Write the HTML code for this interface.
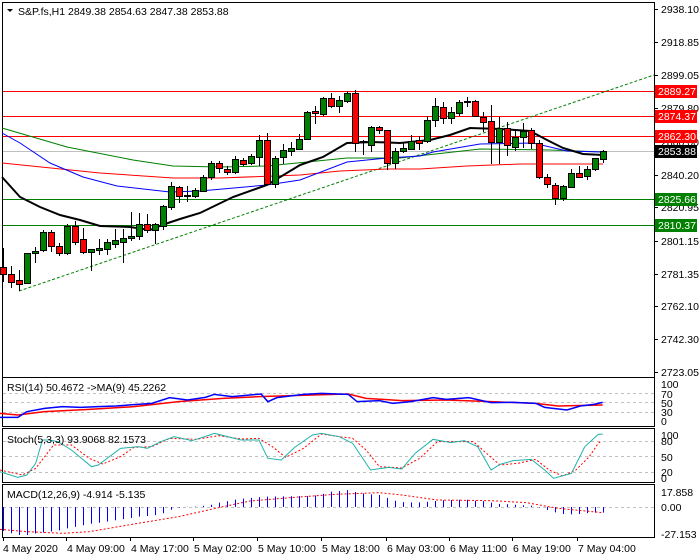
<!DOCTYPE html>
<html><head><meta charset="utf-8"><style>
html,body{margin:0;padding:0;background:#fff;width:700px;height:560px;overflow:hidden}
svg{display:block;font-family:"Liberation Sans","DejaVu Sans",sans-serif;font-size:10.5px}
</style></head><body>
<svg id="s" width="700" height="560" xmlns="http://www.w3.org/2000/svg">
<rect x="0" y="0" width="700" height="560" fill="#fff"/>
<g id="main"></g>
</svg>
<script>
const NS="http://www.w3.org/2000/svg";const S=document.getElementById('main');
function el(t,a,txt){const e=document.createElementNS(NS,t);for(const k in a)e.setAttribute(k,a[k]);if(txt!==undefined)e.textContent=txt;S.appendChild(e);return e;}
function pl(pts,st,w,dash){el('polyline',{points:pts.map(p=>p.join(',')).join(' '),fill:'none',stroke:st,'stroke-width':w||1,'stroke-dasharray':dash||'none'});}
function z3(pts){return pts.map(p=>[p[0]/2.24,p[1]/3+370]);}
// frames
const frames=[[2,2,652,375],[2,377,652,49],[2,428,652,54],[2,484,652,53]];
frames.forEach(f=>el('rect',{x:f[0]+.5,y:f[1]+.5,width:f[2],height:f[3],fill:'none',stroke:'#000'}));
// horizontal levels
[[91,'#f00'],[116,'#f00'],[136,'#f00'],[199,'#008000'],[225,'#008000']].forEach(l=>el('line',{x1:3,x2:654,y1:l[0]+.5,y2:l[0]+.5,stroke:l[1]}));
el('line',{x1:3,x2:654,y1:151.5,y2:151.5,stroke:'#c0c0c0'});
// trendline
el('line',{x1:19,y1:291,x2:654,y2:75,stroke:'#008000','stroke-dasharray':'3,2'});
// MAs
pl([[2,128],[67,147],[133,160],[173,166],[220,167],[267,166],[347,158],[400,158],[480,149],[550,150],[603,152]],'#008000');
pl([[2,163],[100,173],[173,178],[220,178],[300,175],[340,171],[387,169],[420,169],[467,166],[520,164],[603,164]],'#f00');
pl([[2,133],[20,143],[50,163],[83,177],[117,186],[170,192],[200,191],[267,185],[300,180],[347,162],[387,158],[420,156],[433,152],[480,144],[533,143],[567,151],[603,152]],'#00f');
pl([[2,177],[20,197],[40,207],[60,215],[80,220],[100,226],[130,227],[150,230],[165,224],[180,219],[200,213],[233,197],[267,185],[300,165],[323,157],[347,143],[373,142],[400,143],[430,140],[450,135],[470,128],[500,129],[530,131],[547,140],[563,148],[583,154],[603,155]],'#000',2);
// candles [o,c,h,l]
const C=[[267,274,248,282],[274,282,266,288],[280,284,270,291],[283,253,253,283],[253,251,247,263],[250,232,230,252],[232,246,230,252],[246,253,243,256],[253,226,224,255],[226,242,221,245],[239,252,228,254],[252,249,249,271],[250,248,239,255],[249,242,239,255],[244,240,229,248],[242,238,229,263],[238,236,212,241],[236,224,213,240],[224,230,214,233],[230,224,223,244],[226,206,205,230],[207,186,182,210],[187,196,186,203],[196,195,186,202],[196,190,188,198],[191,177,175,192],[177,163,161,180],[163,168,161,173],[169,172,166,175],[172,159,156,174],[160,164,158,166],[163,156,154,165],[157,140,135,166],[140,184,133,184],[184,158,156,188],[157,150,144,164],[151,148,142,156],[149,139,134,150],[139,112,111,140],[111,113,106,124],[114,98,97,116],[98,106,93,108],[106,100,96,113],[101,93,91,103],[93,143,90,152],[142,141,140,155],[145,127,126,152],[127,130,126,134],[130,163,130,170],[163,151,148,169],[151,148,143,153],[149,141,135,150],[140,143,136,150],[141,120,116,143],[120,106,98,127],[107,118,102,124],[118,112,107,124],[113,102,100,116],[102,101,97,107],[101,116,100,117],[117,122,112,132],[121,142,105,164],[142,128,117,164],[128,145,122,156],[147,137,130,151],[137,131,123,148],[130,143,128,149],[143,177,140,179],[177,184,174,188],[185,198,183,205],[198,186,185,201],[187,173,169,188],[173,177,166,178],[176,169,166,180],[169,158,158,171],[159,151,150,163]];
C.forEach((c,i)=>{const x=3+8*i;const up=c[1]<=c[0];const t=Math.min(c[0],c[1]),b=Math.max(c[0],c[1]);
el('line',{x1:x+.5,x2:x+.5,y1:c[2],y2:c[3],stroke:'#000'});
el('rect',{x:x-2.5,y:t+.5,width:6,height:Math.max(b-t,1),fill:up?'#008000':'#f00',stroke:'#000'});});
// header
el('path',{d:'M7 9 L13 9 L10 12 Z',fill:'#000'});
el('text',{x:18,y:15},'S&P.fs,H1  2849.38 2854.63 2847.38 2853.88');
// price axis
[['2938.10',9],['2918.85',42],['2899.05',75],['2879.80',108],['2860.00',142],['2840.20',175],['2820.95',207],['2801.15',241],['2781.35',274],['2762.10',306],['2742.30',339],['2723.05',372]].forEach(a=>{el('line',{x1:654,x2:658,y1:a[1]+.5,y2:a[1]+.5,stroke:'#000'});el('text',{x:661,y:a[1]+4},a[0]);});
[['2889.27',91,'#f00'],['2874.37',116,'#f00'],['2862.30',136,'#f00'],['2853.88',151,'#000'],['2825.66',199,'#008000'],['2810.37',225,'#008000']].forEach(a=>{el('rect',{x:655,y:a[1]-6,width:42,height:13,fill:a[2]});el('text',{x:658,y:a[1]+4,fill:'#fff'},a[0]);});
// RSI
[393.5,402.5,412.5].forEach(y=>el('line',{x1:3,x2:654,y1:y,y2:y,stroke:'#c0c0c0','stroke-dasharray':'3,3'}));
pl(z3([[0,130],[40,135],[100,125],[200,118],[300,110],[400,95],[500,85],[580,80],[700,75],[780,72],[820,85],[900,92],[1000,90],[1100,95],[1200,100],[1250,108],[1350,105]]),'#f00',1.5);
pl(z3([[0,142],[40,142],[60,125],[100,115],[140,110],[180,112],[220,110],[260,108],[300,104],[340,100],[380,83],[420,90],[460,82],[480,73],[520,80],[560,75],[585,72],[600,95],[620,83],[680,73],[720,70],[780,73],[800,95],[850,92],[880,100],[920,95],[970,83],[1000,88],[1050,83],[1100,98],[1150,97],[1200,100],[1220,112],[1270,120],[1300,108],[1330,103],[1350,97]]),'#00f',1.5);
el('text',{x:7,y:391},'RSI(14) 50.4672  ->MA(9) 45.2262');
[['100',384],['70',394],['50',403],['30',412],['0',421]].forEach(a=>el('text',{x:661,y:a[1]+4},a[0]));
// Stoch
[441.5,456.5,472.5].forEach(y=>el('line',{x1:3,x2:654,y1:y,y2:y,stroke:'#c0c0c0','stroke-dasharray':'3,3'}));
pl(z3([[0,300],[50,315],[80,295],[100,260],[120,225],[160,225],[200,265],[230,282],[270,260],[300,232],[340,230],[380,205],[440,208],[490,197],[540,207],[580,205],[610,230],[640,262],[680,235],[720,192],[760,200],[790,205],[820,240],[850,290],[900,294],[940,265],[980,215],[1060,215],[1090,250],[1120,285],[1160,280],[1200,268],[1230,300],[1260,318],[1290,300],[1320,260],[1340,220],[1345,215]]),'#f00',1,'2,2');
pl(z3([[0,305],[40,322],[60,315],[80,280],[95,210],[110,210],[130,215],[160,240],[205,290],[220,285],[270,235],[310,230],[330,235],[360,215],[390,200],[430,212],[470,195],[480,190],[540,210],[580,210],[600,265],[630,270],[660,232],[700,195],[720,190],[760,200],[790,220],[830,300],[870,292],[900,297],[930,250],[970,208],[1010,218],[1040,212],[1070,230],[1100,300],[1120,283],[1150,272],[1190,268],[1220,300],[1240,325],[1280,310],[1310,230],[1340,193],[1350,192]]),'#20b2aa');
el('text',{x:7,y:443},'Stoch(5,3,3) 93.9068 82.1573');
[['100',435],['80',441],['50',457],['20',472],['0',478]].forEach(a=>el('text',{x:661,y:a[1]+4},a[0]));
// MACD
el('line',{x1:3,x2:654,y1:507.5,y2:507.5,stroke:'#c0c0c0','stroke-dasharray':'3,3'});
const H=[[0,480],[25,490],[40,495],[60,495],[80,490],[100,487],[130,482],[150,475],[170,470],[200,462],[240,455],[260,450],[290,445],[310,440],[330,438],[350,435],[370,428],[385,418],[400,413],[420,410],[440,410],[470,405],[490,398],[510,393],[530,388],[550,385],[570,383],[590,380],[700,378],[720,373],[740,365],[760,363],[780,360],[800,368],[820,372],[850,375],[870,385],[890,395],[910,397],[940,397],[960,395],[980,392],[1000,390],[1020,390],[1040,388],[1060,392],[1080,393],[1100,398],[1120,402],[1140,403],[1160,405],[1190,407],[1205,411],[1220,418],[1245,428],[1265,433],[1290,433],[1310,430],[1330,428],[1350,428]];
function interp(x){for(let k=0;k<H.length-1;k++){const a=H[k],b=H[k+1];const ax=a[0]/2.24,bx=b[0]/2.24;if(x>=ax&&x<=bx)return a[1]+(b[1]-a[1])*(x-ax)/(bx-ax||1);}return H[H.length-1][1];}
for(let i=0;i<76;i++){const x=3+8*i;const y=interp(x)/3+370;el('line',{x1:x+.5,x2:x+.5,y1:507,y2:y,stroke:'#00f'});}
pl(z3([[0,478],[60,485],[140,490],[200,485],[300,462],[400,440],[500,410],[560,393],[650,383],[750,373],[850,368],[900,375],[980,390],[1100,392],[1180,398],[1250,415],[1350,428]]),'#f00',1,'2,2');
el('text',{x:7,y:498},'MACD(12,26,9) -4.914 -5.135');
[['17.858',492],['0.00',507],['-27.153',534]].forEach(a=>el('text',{x:661,y:a[1]+4},a[0]));
// time axis
[['4 May 2020',2],['4 May 09:00',67],['4 May 17:00',131],['5 May 02:00',194],['5 May 10:00',258],['5 May 18:00',322],['6 May 03:00',387],['6 May 11:00',450],['6 May 19:00',513],['7 May 04:00',578]].forEach((a,i)=>{const x=i==0?3:a[1]-1;el('line',{x1:x+.5,x2:x+.5,y1:537,y2:541,stroke:'#000'});el('text',{x:a[1]+(i?0:1),y:552},a[0]);});
</script>
</body></html>
